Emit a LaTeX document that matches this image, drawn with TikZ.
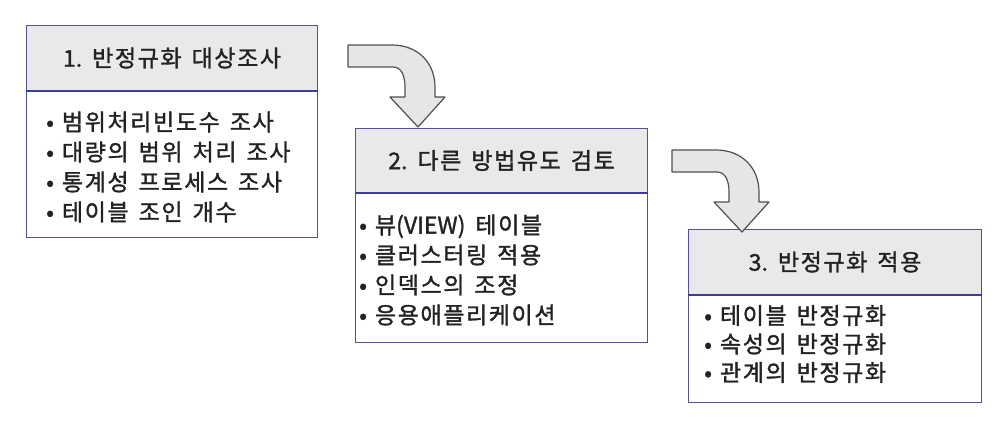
\documentclass[tikz,border=0pt]{standalone}
\usepackage{fontspec}
\setmainfont{Noto Sans CJK KR}
\newfontfamily\krfont[LetterSpace=7, FakeBold=1.4]{Noto Sans CJK KR}
\newfontfamily\latfont[FakeBold=1.4]{Noto Sans CJK KR}
\newcommand{\ws}{\hspace{10pt}}
\newcommand{\bul}{•\hspace{8pt}}
\definecolor{boxline}{HTML}{52529A}
\definecolor{hdrfill}{HTML}{E9E9EC}
\definecolor{divline}{HTML}{3C3CA0}
\definecolor{arrowfill}{HTML}{E6E6E6}
\definecolor{arrowline}{HTML}{505050}
\definecolor{txt}{HTML}{222222}
\tikzset{
  hdr/.style={rectangle, draw=boxline, line width=1.1pt, fill=hdrfill, anchor=north west,
    minimum width=291pt, minimum height=65pt, inner sep=0pt, text=txt,
    font=\krfont\fontsize{23}{26}\selectfont},
  bodybox/.style={rectangle, draw=boxline, line width=1.1pt, fill=white, anchor=north west,
    minimum width=291pt, inner sep=0pt},
  bodytext/.style={anchor=west, inner sep=0pt, text=txt, align=left,
    font=\krfont\fontsize{23}{30}\selectfont},
  divider/.style={draw=divline, line width=1.8pt},
  arrowsty/.style={fill=arrowfill, draw=arrowline, line width=1.2pt, line join=round},
  bent/.pic={
    \draw[arrowsty] (0,0) -- (44,0) .. controls (70,0) and (87,18) .. (87,42) -- (87,52)
      -- (97,52) -- (70,82) -- (42,52) -- (57,52) -- (57,42)
      .. controls (57,30) and (53,22) .. (45,22) -- (0,22) -- cycle;
  }
}
\begin{document}
\begin{tikzpicture}[x=1pt,y=-1pt]
\useasboundingbox (0,0) rectangle (1008,426);
% box 1
\node[bodybox, minimum height=147pt] (b1) at (26,90) {};
\node[hdr] (h1) at (26,25) {{\latfont 1.}\ws 반정규화\ws 대상조사};
\node[bodytext] (t1) at (46,167)
  {\bul 범위처리빈도수\ws 조사\\\bul 대량의\ws 범위\ws 처리\ws 조사\\\bul 통계성\ws 프로세스\ws 조사\\\bul 테이블\ws 조인\ws 개수};
\draw[divider] (h1.south west) -- (h1.south east);
% box 2
\node[bodybox, minimum height=150pt, minimum width=292pt] (b2) at (355,192) {};
\node[hdr, minimum width=292pt, minimum height=64pt] (h2) at (355,128) {{\latfont 2.}\ws 다른\ws 방법유도\ws 검토};
\node[bodytext] (t2) at (359,270)
  {\bul 뷰{\latfont (VIEW)}\ws 테이블\\\bul 클러스터링\ws 적용\\\bul 인덱스의\ws 조정\\\bul 응용애플리케이션};
\draw[divider] (h2.south west) -- (h2.south east);
% box 3
\node[bodybox, minimum height=108pt, minimum width=293pt] (b3) at (688,294) {};
\node[hdr, minimum width=293pt] (h3) at (688,229) {{\latfont 3.}\ws 반정규화\ws 적용};
\node[bodytext, font=\krfont\fontsize{23}{28.5}\selectfont] (t3) at (704,344)
  {\bul 테이블\ws 반정규화\\\bul 속성의\ws 반정규화\\\bul 관계의\ws 반정규화};
\draw[divider] (h3.south west) -- (h3.south east);
% arrows
\pic at (348,45) {bent};
\pic at (672,150) {bent};
\end{tikzpicture}
\end{document}
